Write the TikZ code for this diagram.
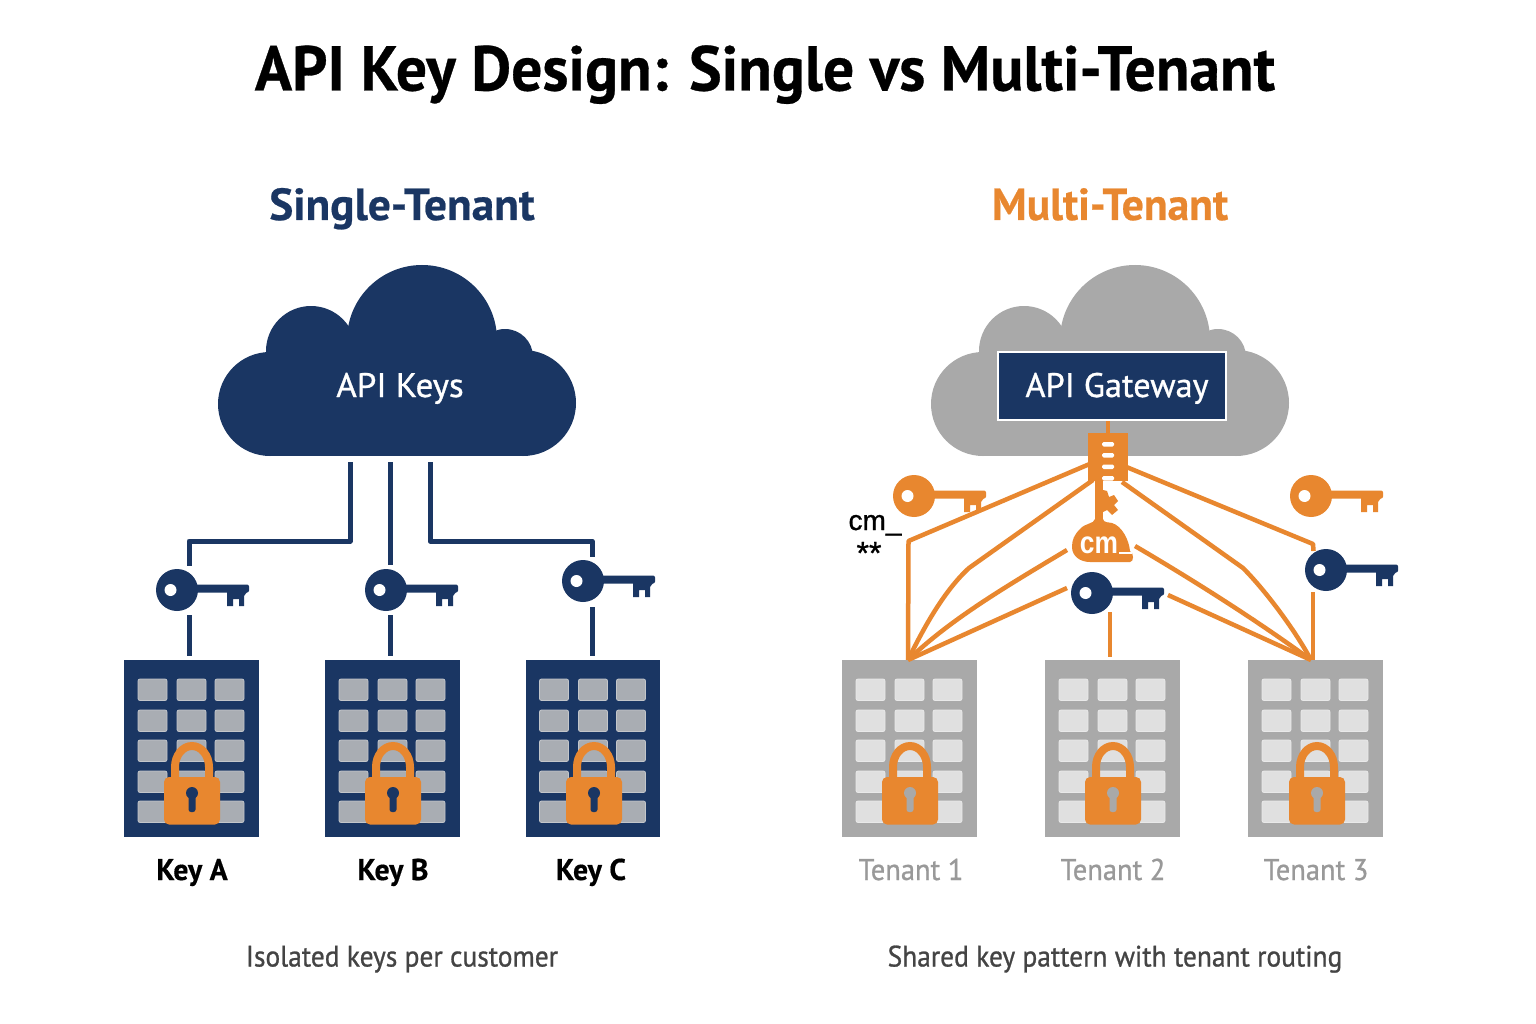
\documentclass[tikz,border=0pt]{standalone}
\usepackage{fontspec}
\usepackage{graphicx}
\setmainfont{PT Sans}
\newfontfamily\heavy{PT Sans Bold}[FakeBold=0.5]
\newfontfamily\medf{PT Sans}[FakeBold=0.9]
\newfontfamily\armfont{Liberation Sans}[FakeBold=1.0]
\newfontfamily\armbold{Liberation Sans Bold}
\definecolor{navy}{HTML}{1A3663}
\definecolor{orng}{HTML}{E8872F}
\definecolor{cgray}{HTML}{A9A9A9}
\definecolor{winA}{HTML}{A9ADB3}
\definecolor{winB}{HTML}{E0E0E0}
\definecolor{tgray}{HTML}{999999}
\definecolor{capgray}{HTML}{444444}
\tikzset{
  navyline/.style={draw=navy,line width=5pt},
  orline/.style={draw=orng,line width=4.5pt,line join=round},
  bldg/.style={rectangle,inner sep=0pt,minimum width=134.5pt,minimum height=176.5pt},
  keyhead/.style={circle,inner sep=0pt,minimum size=42pt},
  lbl/.style={inner sep=0pt,anchor=base,font=\heavy\fontsize{30}{30}\selectfont},
  tlbl/.style={inner sep=0pt,anchor=base,text=tgray,font=\medf\fontsize{30}{30}\selectfont},
  caplbl/.style={inner sep=0pt,anchor=base,text=capgray,font=\medf\fontsize{29.5}{30}\selectfont},
  headlbl/.style={inner sep=0pt,anchor=base,font=\heavy\fontsize{44}{44}\selectfont}
}
% name, x, y, colour
\newcommand{\keyicon}[4]{%
  \node[keyhead,fill=#4] (#1) at (#2,#3) {};
  \begin{scope}[shift={(#2,#3)}]
    \fill[#4,rounded corners=2pt] (18,-5.5) -- (72,-5.5) -- (72,2.5) -- (18,2.5) -- cycle;
    \fill[#4] (50,2) -- (50,16) -- (56,16) -- (56,9) -- (62,9) -- (62,16) -- (67,16) -- (67,6) -- (70,2) -- cycle;
    \fill[white] (-6.5,0) circle[radius=6];
  \end{scope}}
% dx, colour
\newcommand{\cloudicon}[2]{%
  \begin{scope}[shift={(#1,0)}]
    \fill[#2] (270,404) circle[radius=52];
    \fill[#2] (523,403) circle[radius=53];
    \fill[#2] (422,340) circle[radius=75];
    \fill[#2] (311,351) circle[radius=45];
    \fill[#2] (505,357) circle[radius=28];
    \fill[#2] (270,340) rectangle (523,456);
  \end{scope}}
% name, left x, frame colour, window colour, window edge
\newcommand{\bldgicon}[5]{%
  \node[bldg,fill=#3,anchor=north west] (#1) at (#2,660) {};
  \begin{scope}[shift={(#2,660)}]
    \foreach \wx in {14,53,91}{\foreach \wy in {19,50,80,111,141}{
      \fill[#4,draw=#5,line width=0.8pt,rounded corners=2pt] (\wx,\wy) rectangle ++(29,21.5);}}
  \end{scope}}
% centre x, keyhole colour
\newcommand{\lockicon}[2]{%
  \begin{scope}[shift={(#1,0)}]
    \draw[orng,line width=8pt] (-17,780) -- (-17,767) arc[start angle=180,end angle=0,x radius=17,y radius=-21] -- (17,780);
    \fill[orng,rounded corners=5pt] (-28,777) rectangle (28,824.5);
    \fill[#2] (0,793) circle[radius=6];
    \fill[#2,rounded corners=2.5pt] (-3.5,793) rectangle (3.5,812);
  \end{scope}}
\begin{document}
\begin{tikzpicture}[x=1pt,y=-1pt]
\useasboundingbox (0,0) rectangle (1536,1024);
\fill[white] (0,0) rectangle (1536,1024);

\node[inner sep=0pt,anchor=base] (title) at (765,90.5) {\scalebox{0.994}[1.02]{\heavy\fontsize{62}{62}\selectfont API Key Design: Single vs Multi-Tenant}};
\node[headlbl,text=navy] (hleft) at (402,220) {\scalebox{1.03}[1.02]{Single-Tenant}};
\node[headlbl,text=orng] (hright) at (1110,220) {\scalebox{0.99}[1.02]{Multi-Tenant}};

% ---------- left
\cloudicon{0}{navy}
\node[inner sep=0pt,anchor=base,text=white,font=\medf\fontsize{34}{34}\selectfont] (apikeys) at (400,397) {\scalebox{1.03}[1]{API Keys}};

\keyicon{ka}{177}{590}{navy}
\keyicon{kb}{386}{590}{navy}
\keyicon{kc}{583}{581}{navy}

\bldgicon{ba}{124}{navy}{winA}{winA!70!white}
\bldgicon{bb}{325}{navy}{winA}{winA!70!white}
\bldgicon{bc}{525.5}{navy}{winA}{winA!70!white}
\lockicon{192}{navy}
\lockicon{393}{navy}
\lockicon{594}{navy}

\coordinate (la0) at (350,462); \coordinate (la1) at (350,541); \coordinate (la2) at (189,541); \coordinate (la3) at (189,566);
\coordinate (lb0) at (390,462); \coordinate (lb3) at (390,565);
\coordinate (lc0) at (430,462); \coordinate (lc1) at (430,541); \coordinate (lc2) at (592,541); \coordinate (lc3) at (592,557);
\draw[navyline,line join=round] (la0) -- (la1) -- (la2) -- (la3);
\draw[navyline] (lb0) -- (lb3);
\draw[navyline,line join=round] (lc0) -- (lc1) -- (lc2) -- (lc3);
\coordinate (ua) at (189,615); \coordinate (da) at (189,656);
\coordinate (ub) at (390,615); \coordinate (db) at (390,656);
\coordinate (uc) at (592,607); \coordinate (dc) at (592,656);
\draw[navyline] (ua) -- (da);
\draw[navyline] (ub) -- (db);
\draw[navyline] (uc) -- (dc);

\node[lbl] (la) at (192,880) {\scalebox{0.99}[1]{Key A}};
\node[lbl] (lb) at (393,880) {\scalebox{0.99}[1]{Key B}};
\node[lbl] (lc) at (591,880) {\scalebox{0.99}[1]{Key C}};
\node[caplbl] (capl) at (402,966.5) {\scalebox{0.93}[1]{Isolated keys per customer}};

% ---------- right
\cloudicon{713}{cgray}
\node[rectangle,draw=white,line width=2pt,fill=navy,inner sep=0pt,minimum width=228pt,minimum height=68pt] (gw) at (1112,386) {};
\node[inner sep=0pt,anchor=base,text=white,font=\medf\fontsize{34}{34}\selectfont] (gwt) at (1117,397) {\scalebox{1.01}[1]{API Gateway}};

\keyicon{ko1}{914}{496}{orng}
\keyicon{ko2}{1311}{496}{orng}

\bldgicon{t1}{842}{cgray}{winB}{winB!70!white}
\bldgicon{t2}{1045}{cgray}{winB}{winB!70!white}
\bldgicon{t3}{1248}{cgray}{winB}{winB!70!white}

\coordinate (j1) at (908,660);
\coordinate (j3) at (1311,660);
% fan left
\coordinate (p1) at (1092,463); \coordinate (p1b) at (908.5,541);
\coordinate (p2) at (1093,480); \coordinate (p2b) at (969,568);
\coordinate (p3) at (1067,550);
\coordinate (p4) at (1067,588);
\draw[orline] (p1) -- (p1b) -- (j1);
\draw[orline] (p2) -- (p2b) .. controls (945,590) and (925,625) .. (j1);
\draw[orline] (p3) .. controls (1000,590) and (950,620) .. (j1);
\draw[orline] (p4) -- (j1);
% fan right
\coordinate (q1) at (1124,466); \coordinate (q1b) at (1313,544); \coordinate (q1c) at (1313.5,551);
\coordinate (q2) at (1122,482); \coordinate (q2b) at (1243,568);
\coordinate (q3) at (1135,546);
\coordinate (q4) at (1168,595);
\coordinate (rv) at (1313,592); \coordinate (rv2) at (1313,660);
\draw[orline] (q1) -- (q1b) -- (q1c);
\draw[orline] (q2) -- (q2b) .. controls (1265,590) and (1295,630) .. (j3);
\draw[orline] (q3) .. controls (1210,590) and (1270,630) .. (j3);
\draw[orline] (q4) -- (j3);
\draw[orline] (rv) -- (rv2);
\coordinate (mv) at (1110,612); \coordinate (mv2) at (1110,657);
\draw[orline] (mv) -- (mv2);

\keyicon{kn1}{1092}{593}{navy}
\keyicon{kn2}{1326}{570}{navy}

% router
\node[rectangle,fill=orng,inner sep=0pt,minimum width=40pt,minimum height=48pt] (router) at (1108,457) {};
\draw[orline] (gw.south -| router.north) -- (router.north);
\foreach \sy in {442,453,464.5,476}{\fill[white,rounded corners=1.5pt] (1102,\sy) rectangle ++(12,4.5);}

% cm key
\fill[orng] (1095,481) rectangle (1103,525);
\fill[orng] (1103,490) -- (1107,491) -- (1109,497) -- (1114,495) -- (1118,501) -- (1114,505) -- (1118,510) -- (1112,515) -- (1107,510) -- (1103,512) -- cycle;
\fill[orng] (1095,519) .. controls (1094,524) and (1085,523) .. (1080,529) .. controls (1074,535) and (1072,540) .. (1072,547) .. controls (1072,556) and (1080,562) .. (1090,562) -- (1130,562) .. controls (1134,562) and (1134,553) .. (1130,551) .. controls (1129,540) and (1122,526) .. (1112,523) .. controls (1108,522) and (1104,523) .. (1103,519) -- cycle;
\node[inner sep=0pt,anchor=base,text=white,font=\armbold\fontsize{31}{31}\selectfont] (cmtxt) at (1099,553) {\scalebox{0.85}[1]{cm}};
\fill[white] (1119,551.5) rectangle (1132,554);

\node[inner sep=0pt,anchor=base,font=\armfont\fontsize{28}{28}\selectfont] (cm) at (875,530) {cm\_};
\node[inner sep=0pt,anchor=base,font=\armfont\fontsize{32}{32}\selectfont] (stars) at (869,564) {**};

\lockicon{910}{cgray}
\lockicon{1113}{cgray}
\lockicon{1317}{cgray}

\node[tlbl] (l1) at (911,880) {\scalebox{0.95}[1]{Tenant 1}};
\node[tlbl] (l2) at (1113,880) {\scalebox{0.95}[1]{Tenant 2}};
\node[tlbl] (l3) at (1316,880) {\scalebox{0.95}[1]{Tenant 3}};
\node[caplbl] (capr) at (1115,966.5) {\scalebox{0.93}[1]{Shared key pattern with tenant routing}};
\end{tikzpicture}
\end{document}
